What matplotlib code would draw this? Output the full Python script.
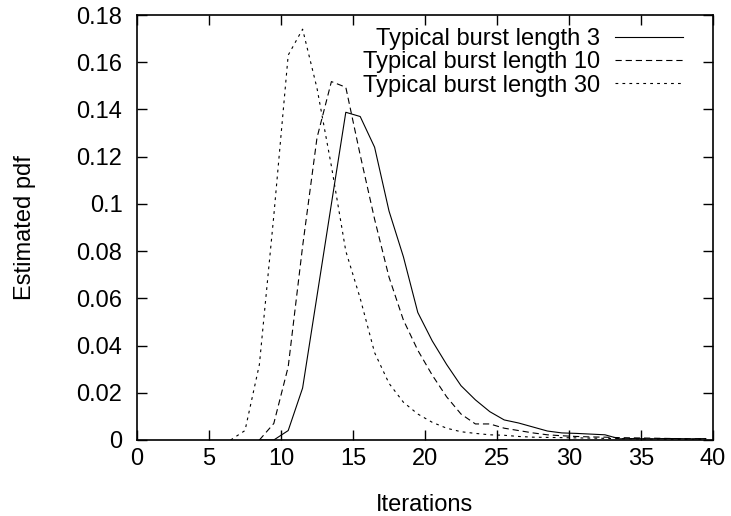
import numpy as np
import matplotlib
matplotlib.use("Agg")
import matplotlib.pyplot as plt

plt.rcParams['font.family'] = ['Liberation Sans', 'DejaVu Sans']
plt.rcParams['lines.scale_dashes'] = False

# estimated pdf vs iterations (bin centres)
x_b3 = [8.5, 9.5, 10.5, 11.5, 12.5, 13.5, 14.5, 15.5, 16.5, 17.5, 18.5, 19.5,
        20.5, 21.5, 22.5, 23.5, 24.5, 25.5, 26.5, 27.5, 28.5, 29.5, 30.5, 31.5,
        32.5, 33.5, 34.5, 35.5, 36.5, 37.5, 38.5, 39.5]
y_b3 = [0.0, 0.0, 0.004, 0.022, 0.061, 0.100, 0.1388, 0.137, 0.124, 0.097, 0.0776, 0.054,
        0.042, 0.032, 0.023, 0.017, 0.012, 0.0085, 0.0072, 0.0055, 0.0038, 0.003, 0.0028, 0.0025,
        0.0022, 0.0005, 0.0006, 0.0005, 0.0006, 0.0006, 0.0005, 0.0006]

x_b10 = [8.5, 9.5, 10.5, 11.5, 12.5, 13.5, 14.5, 15.5, 16.5, 17.5, 18.5, 19.5,
         20.5, 21.5, 22.5, 23.5, 24.5, 25.5, 26.5, 27.5, 28.5, 29.5, 30.5, 31.5,
         32.5, 33.5, 34.5, 35.5, 36.5, 37.5, 38.5, 39.5]
y_b10 = [0.0, 0.007, 0.031, 0.082, 0.128, 0.1518, 0.1494, 0.1207, 0.0935, 0.069, 0.0508, 0.038,
         0.0275, 0.0183, 0.011, 0.0068, 0.0068, 0.005, 0.004, 0.003, 0.0022, 0.0018, 0.0015, 0.0013,
         0.0012, 0.001, 0.0009, 0.0008, 0.0007, 0.0006, 0.0005, 0.0005]

x_b30 = [6.5, 7.5, 8.5, 9.5, 10.5, 11.5, 12.5, 13.5, 14.5, 15.5, 16.5, 17.5,
         18.5, 19.5, 20.5, 21.5, 22.5, 23.5, 24.5, 25.5, 26.5, 27.5, 28.5, 29.5,
         30.5, 31.5, 32.5, 33.5, 34.5, 35.5, 36.5, 37.5, 38.5, 39.5]
y_b30 = [0.0, 0.004, 0.032, 0.095, 0.163, 0.174, 0.149, 0.116, 0.080, 0.060, 0.037, 0.024,
         0.016, 0.011, 0.0075, 0.005, 0.0035, 0.0028, 0.0022, 0.002, 0.0015, 0.0012, 0.0011, 0.001,
         0.0009, 0.0008, 0.0007, 0.0006, 0.0005, 0.0004, 0.0004, 0.0003, 0.0003, 0.0003]

labels = ["Typical burst length 3", "Typical burst length 10", "Typical burst length 30"]

fig = plt.figure(figsize=(7.31, 5.16), dpi=100)
ax = fig.add_axes([137/731, 76/516, 576/731, 425/516])

lw = 0.8
ax.plot(x_b3, y_b3, color='black', lw=lw, label=labels[0])
ax.plot(x_b10, y_b10, color='black', lw=lw, dashes=(4.5, 2.8), label=labels[1])
ax.plot(x_b30, y_b30, color='black', lw=lw, dashes=(2.0, 3.0), label=labels[2])

ax.set_xlim(0, 40)
ax.set_ylim(0, 0.18)
ax.set_xticks([0, 5, 10, 15, 20, 25, 30, 35, 40])
ax.set_yticks([0, 0.02, 0.04, 0.06, 0.08, 0.1, 0.12, 0.14, 0.16, 0.18])
ax.set_yticklabels(["0", "0.02", "0.04", "0.06", "0.08", "0.1", "0.12", "0.14", "0.16", "0.18"])

fs = 17
ax.tick_params(direction='in', top=True, right=True, length=7, width=1.0, labelsize=fs)
ax.tick_params(axis='y', pad=10.5)
ax.tick_params(axis='x', pad=6)
for s in ax.spines.values():
    s.set_linewidth(1.2)

ax.set_xlabel("Iterations", fontsize=fs, labelpad=17)
ax.set_ylabel("Estimated pdf", fontsize=fs, labelpad=29)

ax.legend(loc='upper right', bbox_to_anchor=(0.948, 0.969), frameon=False,
          markerfirst=False, fontsize=fs, handlelength=2.9, handletextpad=0.6,
          labelspacing=0.05, borderaxespad=0.0, borderpad=0.0)

fig.savefig("out.png", dpi=100)
